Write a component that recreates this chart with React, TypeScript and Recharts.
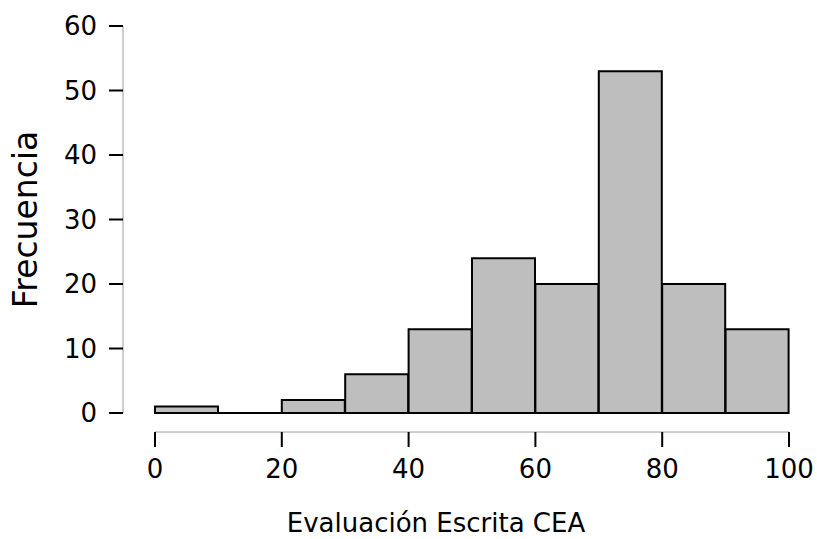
import { BarChart, Bar, XAxis, YAxis, ReferenceLine } from 'recharts';

// histogram bins (lower / upper edges) and frequencies
const binStarts = [0, 10, 20, 30, 40, 50, 60, 70, 80, 90];
const binEnds = [10, 20, 30, 40, 50, 60, 70, 80, 90, 100];
const counts = [1, 0, 2, 6, 13, 24, 20, 53, 20, 13];

const xTicks = [0, 20, 40, 60, 80, 100];
const yTicks = [0, 10, 20, 30, 40, 50, 60];

// bars sit on the bin midpoints of a numeric axis
const data = binStarts.map((lo, i) => ({
    mid: (lo + binEnds[i]) / 2,
    count: counts[i],
}));

const FONT = '"DejaVu Sans", Verdana, sans-serif';

export default function App() {
    return (
        <div style={{ position: 'absolute', left: 0, top: 0, fontFamily: FONT }}>
            <BarChart
                width={817}
                height={539}
                data={data}
                barCategoryGap={0}
                margin={{ top: 26, right: 28, left: 0, bottom: 7 }}
            >
                {/* spacer axes: keep the drawn axes detached from the bars */}
                <XAxis xAxisId="gap" height={19} tick={false} axisLine={false} tickLine={false} />
                <YAxis yAxisId="gap" width={32} tick={false} axisLine={false} tickLine={false} />

                <XAxis
                    xAxisId="num"
                    type="number"
                    dataKey="mid"
                    domain={[0, 100]}
                    ticks={xTicks}
                    interval={0}
                    height={100}
                    axisLine={{ stroke: '#9a9a9a', strokeWidth: 1 }}
                    tickLine={{ stroke: '#000', strokeWidth: 2 }}
                    tickSize={15}
                    tickMargin={13}
                    tick={{ fill: '#000', fontSize: 26, fontFamily: FONT }}
                    label={({ viewBox }: any) => (
                        <text
                            x={viewBox.x + viewBox.width / 2 - 36}
                            y={532}
                            textAnchor="middle"
                            fontSize={26}
                            fontFamily={FONT}
                            fill="#000"
                        >
                            Evaluación Escrita CEA
                        </text>
                    )}
                />
                <YAxis
                    yAxisId="num"
                    type="number"
                    domain={[0, 60]}
                    ticks={yTicks}
                    interval={0}
                    width={123}
                    axisLine={{ stroke: '#9a9a9a', strokeWidth: 1 }}
                    tickLine={{ stroke: '#000', strokeWidth: 2 }}
                    tickSize={14}
                    tickMargin={12}
                    tick={{ fill: '#000', fontSize: 26, fontFamily: FONT }}
                    label={({ viewBox }: any) => {
                        const cy = viewBox.y + viewBox.height / 2;
                        return (
                            <text
                                x={37}
                                y={cy}
                                transform={`rotate(-90, 37, ${cy})`}
                                textAnchor="middle"
                                fontSize={33}
                                fontFamily={FONT}
                                fill="#000"
                            >
                                Frecuencia
                            </text>
                        );
                    }}
                />

                <Bar
                    xAxisId="num"
                    yAxisId="num"
                    dataKey="count"
                    fill="#bebebe"
                    stroke="#000"
                    strokeWidth={2}
                    isAnimationActive={false}
                />
                <ReferenceLine
                    xAxisId="num"
                    yAxisId="num"
                    y={0}
                    ifOverflow="visible"
                    stroke="#000"
                    strokeWidth={2}
                />
            </BarChart>
        </div>
    );
}
